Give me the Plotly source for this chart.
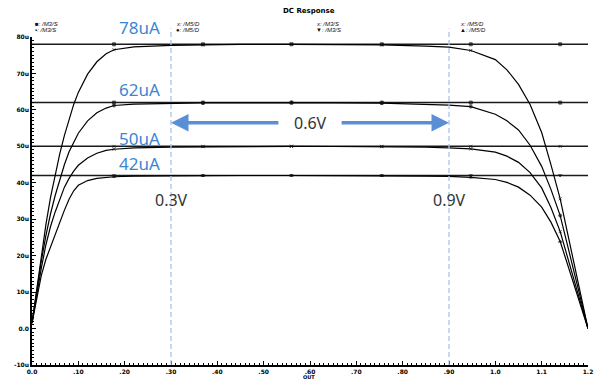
import plotly.graph_objects as go

# ---- data -------------------------------------------------------------
# output-node sweep (V) for the M5 drain currents
vout = [0, 0.01, 0.02, 0.03, 0.04, 0.05, 0.06, 0.07, 0.08, 0.09, 0.10,
        0.12, 0.14, 0.16, 0.177, 0.22, 0.30, 0.369, 0.45, 0.56, 0.65,
        0.755, 0.85, 0.90, 0.947, 1.00, 1.025, 1.05, 1.075, 1.10, 1.12,
        1.14, 1.17, 1.20]

# M5 drain current (uA) for each bias setting
id_m5_78 = [1.5, 11, 20, 28.5, 36, 42.5, 48, 53, 57.5, 61.5, 64.8,
            69.8, 73.2, 75.4, 76.5, 77.3, 77.7, 77.85, 77.95, 78.0, 77.95,
            77.85, 77.5, 77.2, 76.3, 73.8, 71.0, 67.0, 61.5, 53.8, 45.0,
            35.6, 17.8, 0]
id_m5_62 = [1.5, 10.5, 18.5, 25.5, 31.5, 36.5, 41, 45, 48.5, 51.3, 53.6,
            57, 59.2, 60.5, 61.2, 61.6, 61.8, 61.9, 61.95, 62.0, 61.95,
            61.85, 61.6, 61.3, 60.9, 58.8, 57.0, 54.5, 50.3, 44.5, 38.2,
            31.0, 15.5, 0]
id_m5_50 = [1.5, 9.5, 16.5, 23, 28, 32, 35.5, 38.8, 41.2, 43.2, 44.8,
            46.8, 48.1, 48.9, 49.2, 49.6, 49.8, 49.9, 49.95, 50.0, 49.95,
            49.9, 49.75, 49.6, 49.3, 48.4, 47.3, 45.6, 42.8, 38.6, 33.2,
            26.6, 13.3, 0]
id_m5_42 = [1.5, 8.5, 14.5, 19, 22.5, 26, 29.5, 32.5, 35.5, 37.8, 39.3,
            40.6, 41.2, 41.5, 41.65, 41.8, 41.9, 41.95, 42.0, 42.0, 42.0,
            41.95, 41.85, 41.75, 41.5, 40.9, 40.1, 38.8, 36.6, 33.3, 29.2,
            23.9, 12.0, 0]

# M3 source currents (uA), flat over the sweep
m3_levels = [78, 62, 50, 42]
m3_x = [0, 0.177, 0.369, 0.56, 0.755, 0.947, 1.14, 1.2]

# sweep points that carry a marker glyph
marker_x = [0.177, 0.369, 0.56, 0.755, 0.947, 1.14]

# swing limits of the output
v_low, v_high = 0.3, 0.9

# axis ticks
x_ticks = [0, 0.1, 0.2, 0.3, 0.4, 0.5, 0.6, 0.7, 0.8, 0.9, 1.0, 1.1, 1.2]
x_tick_text = ["0.0", ".10", ".20", ".30", ".40", ".50", ".60", ".70",
               ".80", ".90", "1.0", "1.1", "1.2"]
y_ticks = [-10, 0, 10, 20, 30, 40, 50, 60, 70, 80]
y_tick_text = ["-10u", "0.0", "10u", "20u", "30u", "40u", "50u", "60u",
               "70u", "80u"]

# ---- styling ----------------------------------------------------------
BLUE_TXT = "#3A86D2"
BLUE_ARROW = "#5A8FD6"
DASH_BLUE = "#A9C5E8"

X_RANGE = [0, 1.2]
Y_RANGE = [-10, 80]
PLOT_H = 331  # plot-area height in px
PLOT_W = 561


def ypaper(v):
    """data value (uA) -> paper fraction, valid also above the range"""
    return (v - Y_RANGE[0]) / (Y_RANGE[1] - Y_RANGE[0])


m5_series = [id_m5_78, id_m5_62, id_m5_50, id_m5_42]
m5_symbols = ["x-thin", "circle", "x-thin", "triangle-up"]
m3_symbols = ["square", "square", "x-thin", "triangle-down"]

fig = go.Figure()

for lvl, sym in zip(m3_levels, m3_symbols):
    sizes = [3 if x in marker_x else 0 for x in m3_x]
    fig.add_trace(go.Scatter(
        x=m3_x, y=[lvl] * len(m3_x), mode="lines+markers",
        line=dict(color="#1a1a1a", width=1.5),
        marker=dict(symbol=sym, size=sizes, color="#111",
                    line=dict(color="#111", width=1)),
        showlegend=False, hoverinfo="skip"))

for ys, sym in zip(m5_series, m5_symbols):
    sizes = [3 if x in marker_x else 0 for x in vout]
    fig.add_trace(go.Scatter(
        x=vout, y=ys, mode="lines+markers",
        line=dict(color="#000", width=1.2),
        marker=dict(symbol=sym, size=sizes, color="#111",
                    line=dict(color="#111", width=1)),
        showlegend=False, hoverinfo="skip"))

# dashed markers of the output swing
for v in (v_low, v_high):
    fig.add_shape(type="line", xref="x", yref="paper", x0=v, x1=v,
                  y0=0, y1=1.026,
                  line=dict(color=DASH_BLUE, width=1.3, dash="5px,3px"))

# current labels (the top one sits above the plotted range)
label_y = {78: 82.5, 62: 65.7, 50: 52.2, 42: 45.4}
for lvl in m3_levels:
    fig.add_annotation(
        x=0.232, y=ypaper(label_y[lvl]), xref="x", yref="paper",
        xanchor="center", yanchor="middle",
        showarrow=False, text=f"{lvl}uA",
        font=dict(family="Noto Sans", size=17, color=BLUE_TXT))

# voltage labels
for v in (v_low, v_high):
    fig.add_annotation(
        x=v, y=35.2, xref="x", yref="y", showarrow=False,
        xanchor="center", yanchor="middle",
        text=f"{v:.1f}V", font=dict(family="Noto Sans", size=16,
                                    color="#333"))

# swing arrow
mid = (v_low + v_high) / 2
fig.add_annotation(
    x=mid, y=56.4, xref="x", yref="y", showarrow=False,
    xanchor="center", yanchor="middle",
    text=f"{v_high - v_low:.1f}V",
    font=dict(family="Noto Sans", size=16, color="#333"))
for tip, tail in ((v_low, 0.535), (v_high, 0.665)):
    fig.add_annotation(
        x=tip, y=56.5, ax=tail, ay=56.5, xref="x", yref="y",
        axref="x", ayref="y", text="", showarrow=True, arrowhead=2,
        arrowsize=1.0, arrowwidth=3.5, arrowcolor=BLUE_ARROW, standoff=0)

# title and axis name
small_bold = dict(family="DejaVu Sans", size=7, color="#000", weight="bold")
fig.add_annotation(x=0.4975, y=1 + (37 - 11) / PLOT_H, xref="paper",
                   yref="paper", yanchor="middle", showarrow=False,
                   text="DC Response", font=small_bold)
fig.add_annotation(x=0.499, y=-(380.5 - 368) / PLOT_H, xref="paper",
                   yref="paper", yanchor="middle", showarrow=False,
                   text="OUT",
                   font=dict(family="DejaVu Sans", size=5, color="#000",
                             weight="bold"))

# trace key along the top
legend_rows = [
    (33, ["■: /M3/S", "▪: /M3/S"]),
    (175, ["x: /M5/D", "●: /M5/D"]),
    (317, ["x: /M3/S", "▼: /M3/S"]),
    (462, ["x: /M5/D", "▲: /M5/D"]),
]
for px, rows in legend_rows:
    for i, txt in enumerate(rows):
        fig.add_annotation(
            x=(px - 32) / PLOT_W, y=1 + (37 - (24 + 6 * i)) / PLOT_H,
            xref="paper", yref="paper", xanchor="left", yanchor="middle",
            showarrow=False, text=txt,
            font=dict(family="Liberation Sans", size=6, color="#111",
                      style="italic"))

axis_common = dict(
    showgrid=False, zeroline=False, showline=True, linecolor="#000",
    linewidth=1.5, ticks="inside", ticklen=4, tickwidth=1, tickcolor="#000",
    tickfont=dict(family="DejaVu Sans", size=6, color="#000",
                  weight="bold"),
)

fig.update_xaxes(range=X_RANGE, tickvals=x_ticks, ticktext=x_tick_text,
                 minor=dict(ticks="inside", ticklen=2, dtick=0.01, tick0=0,
                            tickcolor="#000", tickwidth=1),
                 **axis_common)
fig.update_yaxes(range=Y_RANGE, tickvals=y_ticks, ticktext=y_tick_text,
                 minor=dict(ticks="inside", ticklen=2, dtick=1, tick0=0,
                            tickcolor="#000", tickwidth=1),
                 **axis_common)

fig.update_layout(
    width=600, height=382,
    margin=dict(l=32, r=7, t=37, b=14, pad=0),
    paper_bgcolor="white", plot_bgcolor="white",
    showlegend=False,
)

fig.write_html("out.html")
